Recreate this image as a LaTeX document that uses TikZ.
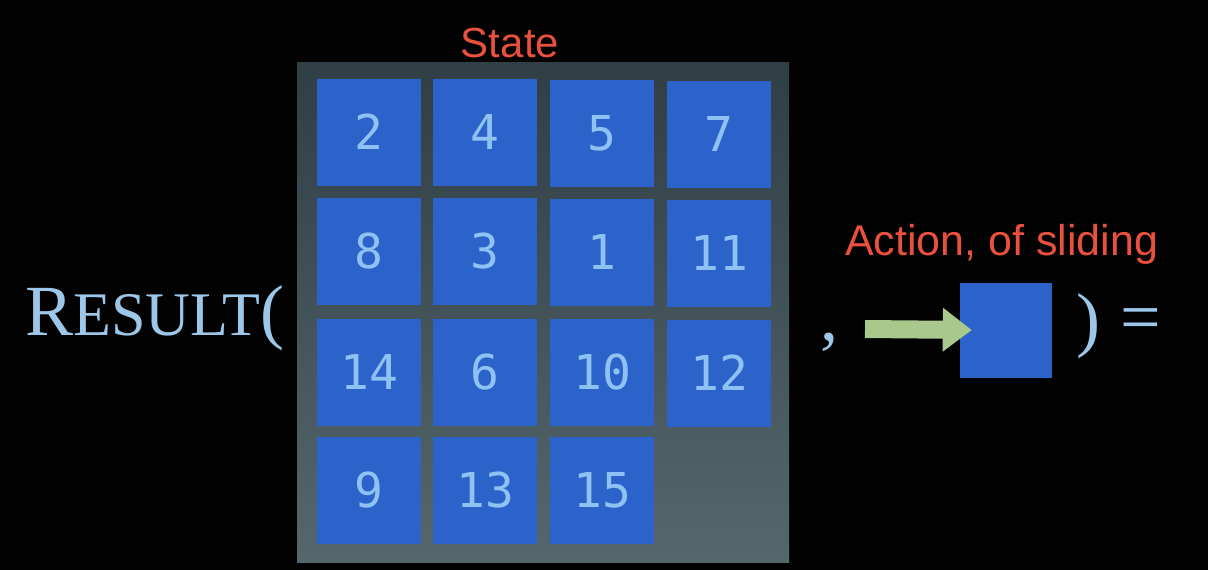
\documentclass[tikz,border=0pt]{standalone}
\usepackage{fontspec}
\newfontfamily\monofam{DejaVu Sans Mono}
\newfontfamily\labfam{Liberation Sans}
\newfontfamily\formfam{Liberation Serif}
\usetikzlibrary{arrows.meta}
\definecolor{bgblack}{HTML}{020203}
\definecolor{tileblue}{HTML}{2B63CA}
\definecolor{digitblue}{HTML}{8EC2F2}
\definecolor{resblue}{HTML}{9DC7E9}
\definecolor{labred}{HTML}{E9503E}
\definecolor{arrowgreen}{HTML}{A9C98C}
\definecolor{boardtop}{HTML}{303E46}
\definecolor{boardbot}{HTML}{55676C}
\tikzset{
  tile/.style={fill=tileblue, inner sep=0pt, minimum width=104pt, minimum height=107pt,
    text=digitblue, font=\monofam\fontsize{48}{48}\selectfont},
  boardbox/.style={inner sep=0pt, minimum width=492pt, minimum height=500pt,
    top color=boardtop, bottom color=boardbot},
  redlabel/.style={text=labred, inner sep=0pt, font=\labfam\fontsize{42}{42}\selectfont},
  formula/.style={text=resblue, inner sep=0pt, font=\formfam\fontsize{72}{72}\selectfont}
}
\begin{document}
\begin{tikzpicture}[x=1pt,y=-1pt]
\fill[bgblack] (0,0) rectangle (1208,570);
\useasboundingbox (0,0) rectangle (1208,570);
% board
\node[boardbox] (board) at (543,312) {};
% tiles
\node[tile] (t2)  at (369,132) {2};
\node[tile] (t4)  at (485,132) {4};
\node[tile] (t5)  at (602,133) {5};
\node[tile] (t7)  at (719,134) {7};
\node[tile] (t8)  at (369,251) {8};
\node[tile] (t3)  at (485,251) {3};
\node[tile] (t1)  at (602,252) {1};
\node[tile] (t11) at (719,253) {11};
\node[tile] (t14) at (369,372) {14};
\node[tile] (t6)  at (485,372) {6};
\node[tile] (t10) at (602,372) {10};
\node[tile] (t12) at (719,373) {12};
\node[tile] (t9)  at (369,490) {9};
\node[tile] (t13) at (485,490) {13};
\node[tile] (t15) at (602,490) {15};
% labels
\node[redlabel, anchor=base] (state) at (510,57) {State};
\node[redlabel, anchor=base west, font=\labfam\fontsize{43}{43}\selectfont] (actlab) at (845,255) {Action, of sliding};
% formula
\node[formula, anchor=base west] (result) at (25,335) {R{\fontsize{62}{62}\selectfont ESULT}(};
\node[formula, anchor=base west] (comma) at (820,340) {,};
% action square and arrow
\node[fill=tileblue, inner sep=0pt, minimum width=92pt, minimum height=95pt] (act) at (1006,330) {};
\coordinate (arrstart) at (865,329);
\draw[arrowgreen, line width=18pt, -{Triangle[length=29pt,width=42pt]}] (arrstart) -- ([xshift=12pt]act.west);
\node[formula, anchor=base west] (rparen) at (1076,343) {)};
\node[formula, anchor=base west] (eq) at (1120,341) {=};
\end{tikzpicture}
\end{document}
